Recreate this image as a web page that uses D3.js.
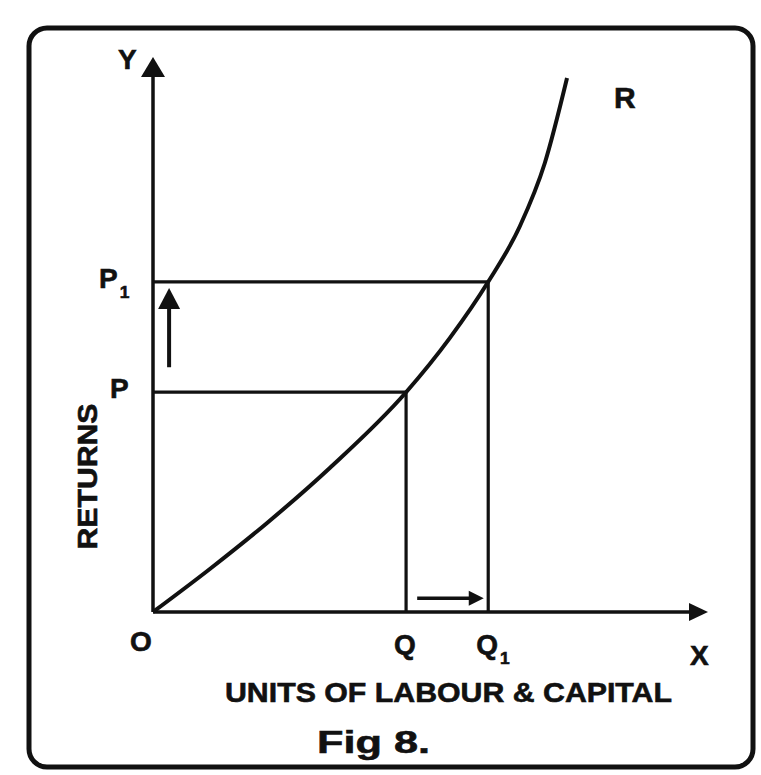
<!doctype html>
<html lang="en">
  <head>
    <meta charset="utf-8">
    <title>Fig 8 - Increasing Returns</title>
    <script src="https://d3js.org/d3.v7.min.js"></script>
    <style>
      body { margin: 0; background: #fff; }
      text { font-family: "Liberation Sans", Arial, sans-serif; font-weight: bold; fill: #111; stroke: #111; stroke-width: 0.6; }
    </style>
  </head>
  <body>
    <div id="container"></div>
  </body>
  <script>
    // curve R: units of labour & capital vs returns
    const curveUnits = [0, 10.3, 20.5, 31.9, 45.6, 53.5, 60.4, 66.1, 70.6, 74.6]
    const curveReturns = [0, 7.8, 16.0, 26.0, 39.6, 49.4, 59.5, 69.5, 80.9, 96.2]
    // the two marked positions
    const unitLabels = ["Q", "Q"]
    const unitValues = [45.6, 60.4]
    const returnLabels = ["P", "P"]
    const returnValues = [39.6, 59.5]
    const subscripts = ["", "1"]

    const width = 761
    const height = 775

    const svg = d3.select("#container")
      .append("svg")
        .attr("width", width)
        .attr("height", height)

    // frame
    svg.append("rect")
      .attr("x", 29).attr("y", 28)
      .attr("width", 724).attr("height", 739)
      .attr("rx", 18)
      .attr("fill", "none")
      .attr("stroke", "#111")
      .attr("stroke-width", 5)

    const x = d3.scaleLinear().domain([0, 100]).range([153, 708])
    const y = d3.scaleLinear().domain([0, 100]).range([612, 57])

    function arrowHead(tipX, tipY, dir, len, half) {
      // dir: "up" or "right"
      let pts
      if (dir === "up") pts = [[tipX, tipY], [tipX - half, tipY + len], [tipX + half, tipY + len]]
      else pts = [[tipX, tipY], [tipX - len, tipY - half], [tipX - len, tipY + half]]
      svg.append("path")
        .attr("d", "M" + pts.join("L") + "Z")
        .attr("fill", "#111")
    }

    // axes
    svg.append("line")
      .attr("x1", x(0)).attr("y1", y(0))
      .attr("x2", x(0)).attr("y2", y(100) + 16)
      .attr("stroke", "#111").attr("stroke-width", 3.5)
    arrowHead(x(0), y(100), "up", 20, 12)

    svg.append("line")
      .attr("x1", x(0)).attr("y1", y(0))
      .attr("x2", x(100) - 16).attr("y2", y(0))
      .attr("stroke", "#111").attr("stroke-width", 3.5)
    arrowHead(x(100), y(0), "right", 19, 9)

    // guide lines from curve to axes
    unitValues.forEach((u, i) => {
      const r = returnValues[i]
      svg.append("polyline")
        .attr("points", [[x(0), y(r)], [x(u), y(r)], [x(u), y(0)]].join(" "))
        .attr("fill", "none")
        .attr("stroke", "#111")
        .attr("stroke-width", 3.2)
    })

    // curve R
    const curveData = curveUnits.map((u, i) => [u, curveReturns[i]])
    const line = d3.line()
      .x(d => x(d[0]))
      .y(d => y(d[1]))
      .curve(d3.curveMonotoneX)
    svg.append("path")
      .datum(curveData)
      .attr("d", line)
      .attr("fill", "none")
      .attr("stroke", "#111")
      .attr("stroke-width", 4)

    // small arrows showing the shift
    svg.append("line")
      .attr("x1", x(2.9)).attr("y1", y(returnValues[0] + 4.5))
      .attr("x2", x(2.9)).attr("y2", y(returnValues[1] - 4))
      .attr("stroke", "#111").attr("stroke-width", 4)
    arrowHead(x(2.9), y(returnValues[1] - 1.1), "up", 21, 11)

    svg.append("line")
      .attr("x1", x(unitValues[0] + 2)).attr("y1", y(2.5))
      .attr("x2", x(unitValues[1] - 2.5)).attr("y2", y(2.5))
      .attr("stroke", "#111").attr("stroke-width", 3.5)
    arrowHead(x(unitValues[1] - 0.8), y(2.5), "right", 15, 7.5)

    // labels
    function label(txt, sub, px, py, size, anchor) {
      const t = svg.append("text")
        .attr("x", px).attr("y", py)
        .attr("font-size", size)
        .attr("text-anchor", anchor || "start")
        .text(txt)
      if (sub) {
        t.append("tspan")
          .attr("font-size", size * 0.62)
          .attr("dx", 2).attr("dy", 10)
          .text(sub)
      }
      return t
    }

    returnValues.forEach((r, i) => {
      label(returnLabels[i], subscripts[i], i ? 99 : 110, y(r) + 6, 28)
    })
    unitValues.forEach((u, i) => {
      label(unitLabels[i], subscripts[i], x(u) - 12, 654, 28)
    })
    label("O", "", 130, 651, 28)
    label("X", "", 690, 665, 28)
    label("Y", "", 118, 69, 28)
    label("R", "", 614, 108, 30)

    svg.append("text")
      .attr("transform", `translate(97,${(403 + 550) / 2}) rotate(-90)`)
      .attr("text-anchor", "middle")
      .attr("font-size", 27)
      .attr("textLength", 146)
      .attr("lengthAdjust", "spacingAndGlyphs")
      .text("RETURNS")

    svg.append("text")
      .attr("x", 225).attr("y", 702)
      .attr("font-size", 28)
      .attr("textLength", 447)
      .attr("lengthAdjust", "spacingAndGlyphs")
      .text("UNITS OF LABOUR & CAPITAL")

    svg.append("text")
      .attr("x", 317).attr("y", 753)
      .attr("font-size", 32)
      .attr("textLength", 113)
      .attr("lengthAdjust", "spacingAndGlyphs")
      .text("Fig 8.")
  </script>
</html>
